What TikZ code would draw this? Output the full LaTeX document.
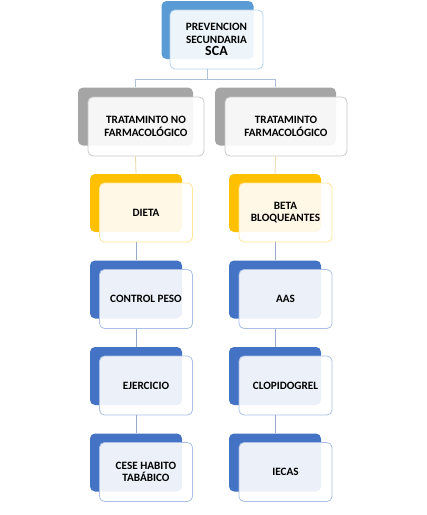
\documentclass[tikz,border=0pt]{standalone}
\usepackage{fontspec}
\setmainfont{Carlito}
\usetikzlibrary{positioning}

\definecolor{scablue}{HTML}{5B9BD5}
\definecolor{grayback}{HTML}{A5A5A5}
\definecolor{goldback}{HTML}{FFC000}
\definecolor{blueback}{HTML}{4472C4}
\definecolor{linegray}{HTML}{AFC0DC}
\definecolor{linegold}{HTML}{E8D9A8}
\definecolor{lineblue}{HTML}{9AAACB}

\tikzstyle{backbox}=[rectangle,
                         rounded corners=5pt,
                         inner sep=0pt,
                         minimum width=92pt,
                         minimum height=58pt]
\tikzstyle{frontbox}=[rectangle,
                         draw,
                         line width=0.8pt,
                         rounded corners=5pt,
                         fill=white,
                         fill opacity=0.9,
                         text opacity=1,
                         inner sep=0pt,
                         minimum width=93pt,
                         minimum height=59pt,
                         align=center,
                         font=\bfseries\fontsize{11.2}{12.5}\selectfont]
\tikzstyle{link}=[draw=lineblue, line width=0.8pt]

\begin{document}
\begin{tikzpicture}[x=1pt,y=-1pt]
    \useasboundingbox (0,0) rectangle (427,515);
    % top
    \node [backbox, fill=scablue] (sca) at (207.5,30) {};
    \node [frontbox, draw=scablue!45] (scaf) at (216.5,39.5)
        {PREVENCION\\SECUNDARIA\\{\fontsize{14}{15}\selectfont SCA}};
    % second row
    \node [backbox, fill=grayback, minimum width=115pt] (nofarm) at (135.5,116.5) {};
    \node [frontbox, draw=grayback!60, minimum width=116pt] (nofarmf) at (146,126.5)
        {TRATAMINTO NO\\FARMACOLÓGICO};
    \node [backbox, fill=grayback, minimum width=121pt] (farm) at (275.5,116.5) {};
    \node [frontbox, draw=grayback!60, minimum width=122pt] (farmf) at (286,126.5)
        {TRATAMINTO\\FARMACOLÓGICO};
    % left column
    \node [backbox, fill=goldback] (dieta) at (136,203) {};
    \node [frontbox, draw=goldback!40] (dietaf) at (146,212.5) {DIETA};
    \node [backbox, fill=blueback] (peso) at (136,289.5) {};
    \node [frontbox, draw=blueback!45] (pesof) at (146,299) {CONTROL PESO};
    \node [backbox, fill=blueback] (ejercicio) at (136,376) {};
    \node [frontbox, draw=blueback!45] (ejerciciof) at (146,385.5) {EJERCICIO};
    \node [backbox, fill=blueback] (tabaco) at (136,462.5) {};
    \node [frontbox, draw=blueback!45] (tabacof) at (146,472) {CESE HABITO\\TABÁBICO};
    % right column
    \node [backbox, fill=goldback] (beta) at (275,203) {};
    \node [frontbox, draw=goldback!40] (betaf) at (285.5,212.5) {BETA\\BLOQUEANTES};
    \node [backbox, fill=blueback] (aas) at (275,289.5) {};
    \node [frontbox, draw=blueback!45] (aasf) at (285.5,299) {AAS};
    \node [backbox, fill=blueback] (clopi) at (275,376) {};
    \node [frontbox, draw=blueback!45] (clopif) at (285.5,385.5) {CLOPIDOGREL};
    \node [backbox, fill=blueback] (iecas) at (275,462.5) {};
    \node [frontbox, draw=blueback!45] (iecasf) at (285.5,472) {IECAS};

    \draw [link, draw=linegray] (sca.south |- scaf.south) -- +(0,9.5) -| (nofarm.north);
    \draw [link, draw=linegray] (sca.south |- scaf.south) -- +(0,9.5) -| (farm.north);
    \draw [link, draw=linegold] (nofarm.south |- nofarmf.south) -- (dieta.north);
    \draw [link, draw=linegold] (farm.south |- farmf.south) -- (beta.north);
    \draw [link] (dieta.south |- dietaf.south) -- (peso.north);
    \draw [link] (peso.south |- pesof.south) -- (ejercicio.north);
    \draw [link] (ejercicio.south |- ejerciciof.south) -- (tabaco.north);
    \draw [link] (beta.south |- betaf.south) -- (aas.north);
    \draw [link] (aas.south |- aasf.south) -- (clopi.north);
    \draw [link] (clopi.south |- clopif.south) -- (iecas.north);
\end{tikzpicture}
\end{document}
